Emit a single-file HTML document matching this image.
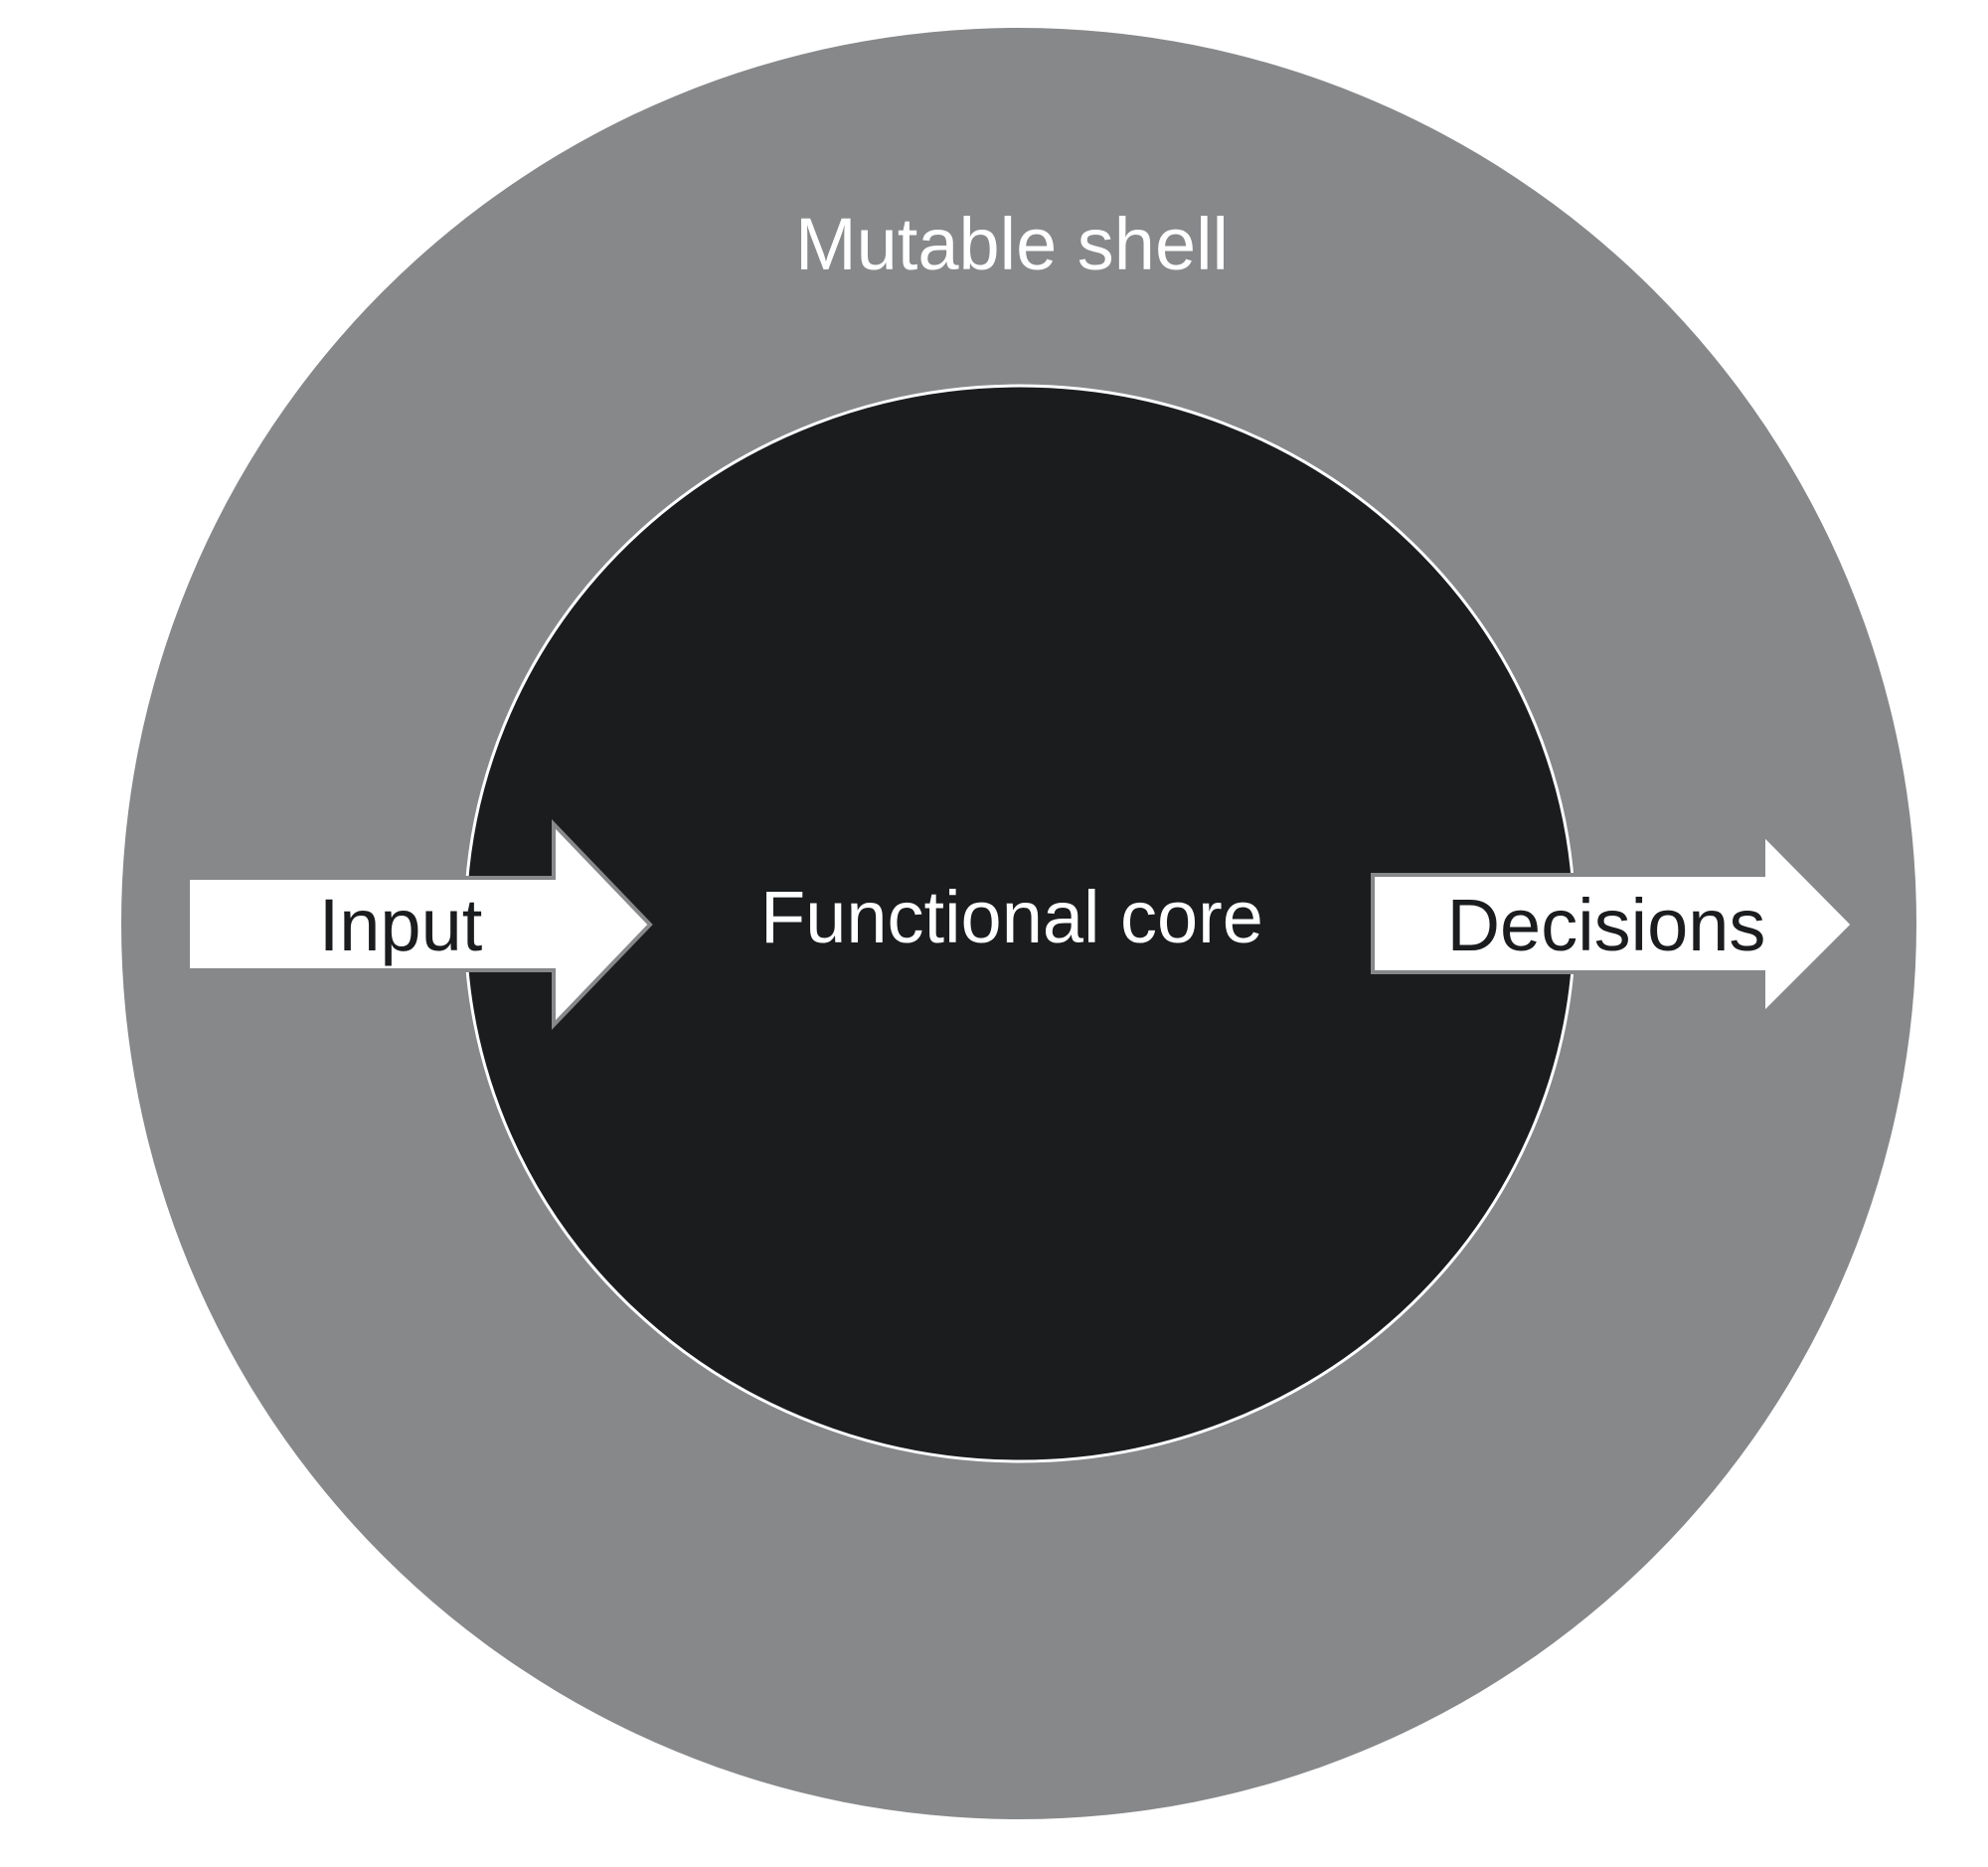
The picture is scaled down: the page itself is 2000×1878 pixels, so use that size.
<!DOCTYPE html>
<html><head><style>html,body{margin:0;padding:0;background:#fff;}</style></head>
<body>
<svg width="2000" height="1873" viewBox="0 0 2000 1873" xmlns="http://www.w3.org/2000/svg">
<rect width="2000" height="1873" fill="#fff"/>
<ellipse cx="1025" cy="929" rx="903" ry="901" fill="#87888a"/>
<ellipse cx="1026" cy="929" rx="558" ry="541" fill="#1a1c1e" stroke="#fff" stroke-width="3"/>
<polygon points="189,883 557,883 557,829 654,930 557,1031 557,976 189,976" fill="#fff" stroke="#87888a" stroke-width="4"/>
<polygon points="1381,880 1774,880 1774,839 1864,930 1774,1020 1774,978 1381,978" fill="#fff" stroke="#87888a" stroke-width="4"/>
<g font-family="Liberation Sans, sans-serif" font-size="74" text-anchor="middle">
<text x="1018" y="271" fill="#fff">Mutable shell</text>
<text x="1018" y="948" fill="#fff">Functional core</text>
<text x="403" y="956" fill="#1a1c1e">Input</text>
<text x="1616" y="956" fill="#1a1c1e">Decisions</text>
</g>
</svg>
</body></html>
